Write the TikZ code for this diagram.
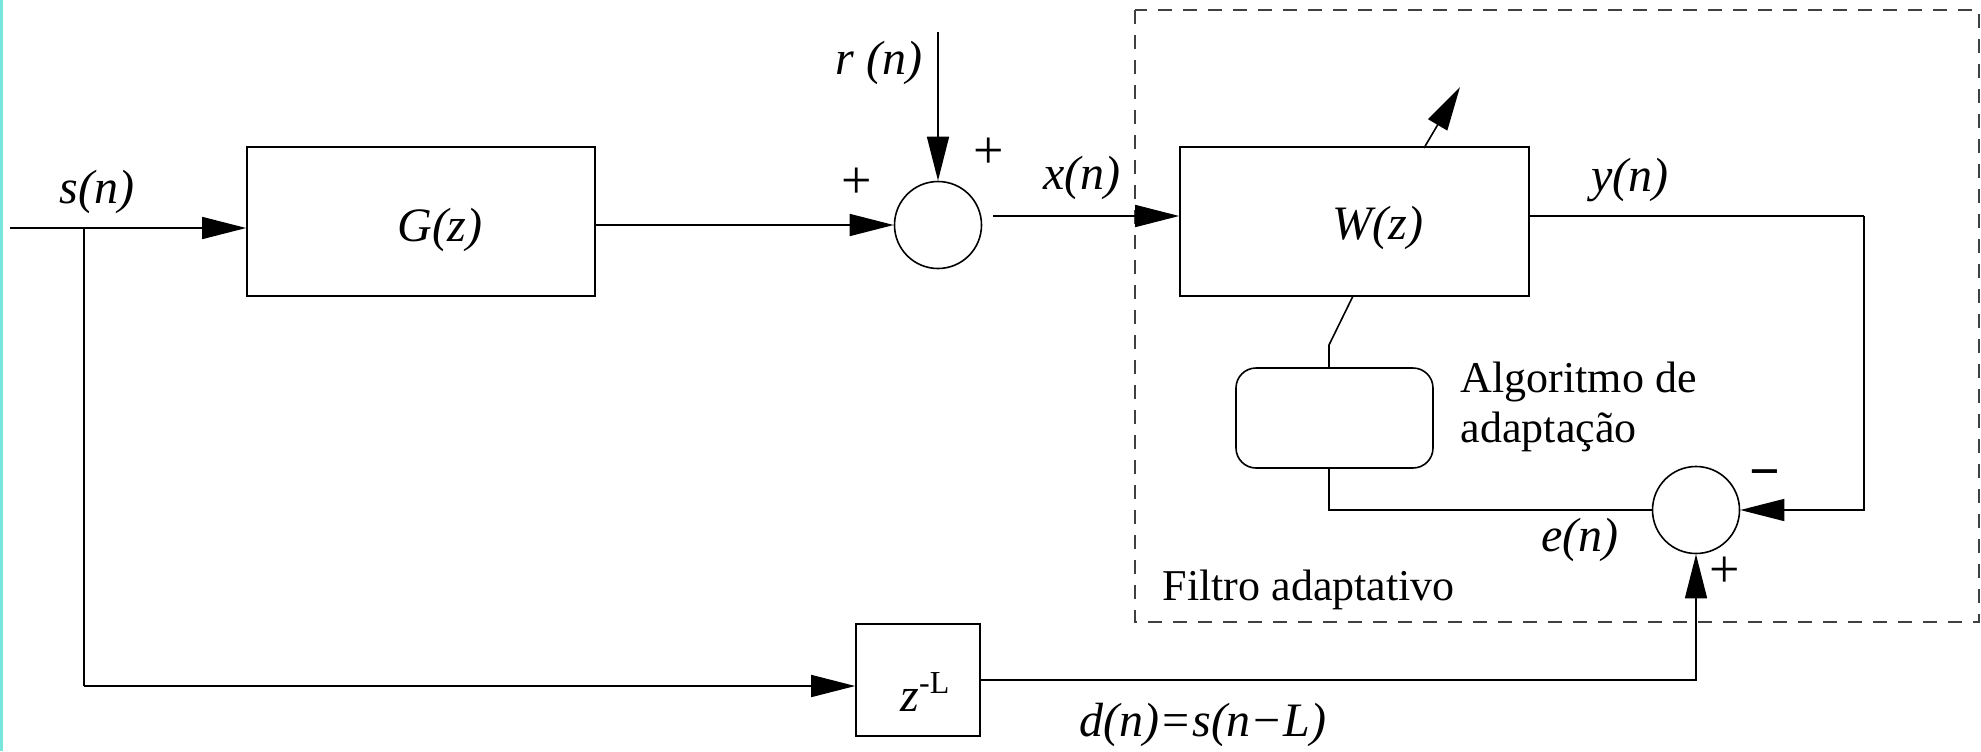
\documentclass[tikz,border=0pt]{standalone}
\usepackage{fontspec}
\setmainfont{Liberation Serif}
\usetikzlibrary{arrows.meta,positioning}
\definecolor{edgecyan}{RGB}{120,230,220}
\tikzset{
  blk/.style={draw, line width=0.4pt, inner sep=0pt},
  summ/.style={draw, circle, line width=0.4pt, minimum size=21.75pt, inner sep=0pt},
  sig/.style={line width=0.4pt, -{Triangle[length=11pt,width=5.5pt]}},
  wire/.style={line width=0.4pt},
  lbl/.style={font=\fontsize{12}{14}\selectfont\itshape, inner sep=0pt},
  txt/.style={font=\fontsize{11}{12.5}\selectfont, inner sep=0pt},
  sgn/.style={font=\fontsize{13.5}{14}\selectfont, inner sep=0pt},
}
\begin{document}
\begin{tikzpicture}[x=0.25pt,y=-0.25pt]
  \useasboundingbox (0,0) rectangle (1981,751);
  \fill[edgecyan] (0,0) rectangle (3,751);
  % Blocos
  \node[blk, minimum width=87pt, minimum height=37.25pt] (G) at (421,221.5) {};
  \node[blk, minimum width=87.25pt, minimum height=37.25pt] (W) at (1354.5,221.5) {};
  \node[blk, rounded corners=5pt, minimum width=49.25pt, minimum height=25pt] (alg) at (1334.5,418) {};
  \node[blk, minimum width=31pt, minimum height=28pt] (delay) at (918,680) {};
  \node[summ] (sum1) at (938,225) {};
  \node[summ] (sum2) at (1696,510) {};
  % Filtro adaptativo (tracejado)
  \draw[wire, dash pattern=on 3.5pt off 2.75pt, black!75] (1135,10) rectangle (1979,622);
  % Pontos auxiliares
  \coordinate (in) at (10,228);
  \coordinate (br) at (84,228);
  \coordinate (bl) at (84,686);
  \coordinate (rin) at (938,32);
  \coordinate (xo) at (993,216);
  \coordinate (yc) at (1864,216);
  \coordinate (wk) at (1353,296);
  \coordinate (ak) at (1329,345);
  \coordinate (adj0) at (1424,148);
  \coordinate (adj1) at (1460,87);
  % Ligacoes
  \draw[sig] (in) -- (in -| G.west);
  \draw[wire] (br) -- (bl);
  \draw[sig] (bl) -- (bl -| delay.west);
  \draw[sig] (G.east |- sum1) -- (sum1.west);
  \draw[sig] (rin) -- (sum1.north);
  \draw[sig] (xo) -- (xo -| W.west);
  \draw[wire] (W.east |- yc) -- (yc);
  \draw[sig] (yc) |- (sum2.east);
  \draw[sig] (adj0) -- (adj1);
  \draw[wire] (wk) -- (ak) -- (ak |- alg.north);
  \draw[wire] (ak |- alg.south) |- (sum2.west);
  \draw[sig] (delay.east) -| (sum2.south);
  % Rotulos
  \node[lbl] (sl) at (97,192) {s(n)};
  \node[lbl] (Gl) at (440,230) {G(z)};
  \node[lbl] (rl) at (879,63) {r (n)};
  \node[sgn] (p1) at (857,183) {+};
  \node[sgn] (p2) at (989,153) {+};
  \node[lbl] (xl) at (1082,178) {x(n)};
  \node[lbl] (Wl) at (1378,228) {W(z)};
  \node[lbl] (yl) at (1630,180) {y(n)};
  \node[txt, anchor=west, align=left] (algl) at (1460,407) {Algoritmo de\\adaptação};
  \node[sgn] (m1) at (1765,480) {\textbf{−}};
  \node[lbl] (el) at (1580,540) {e(n)};
  \node[sgn] (p3) at (1725,572) {+};
  \node[txt, anchor=west] (fl) at (1162,590) {Filtro adaptativo};
  \node[lbl] (zl) at (926,692) {z\textsuperscript{\upshape -L}};
  \node[lbl] (dl) at (1203,725) {d(n)=s(n−L)};
\end{tikzpicture}
\end{document}
